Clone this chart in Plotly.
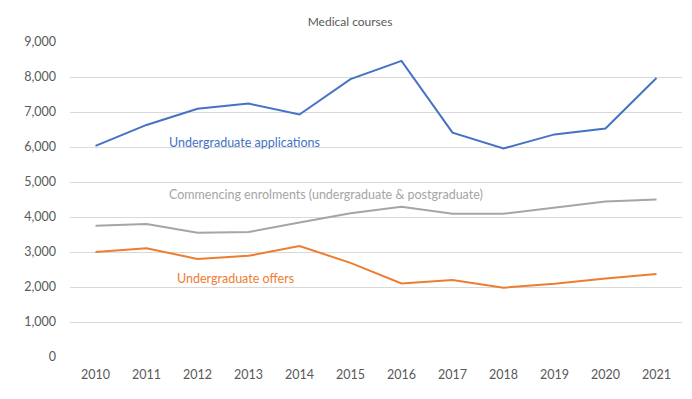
import plotly.graph_objects as go

years = ["2010", "2011", "2012", "2013", "2014", "2015", "2016", "2017", "2018", "2019", "2020", "2021"]
applications = [6030, 6630, 7090, 7240, 6930, 7940, 8460, 6410, 5960, 6360, 6530, 7970]
enrolments = [3750, 3800, 3550, 3570, 3840, 4110, 4290, 4090, 4090, 4260, 4440, 4500]
offers = [3000, 3110, 2800, 2890, 3170, 2690, 2100, 2200, 1980, 2090, 2240, 2370]
yticks = [0, 1000, 2000, 3000, 4000, 5000, 6000, 7000, 8000, 9000]

c_app = "#4472C4"
c_enr = "#A5A5A5"
c_off = "#ED7D31"
font = "Lato, 'Open Sans', sans-serif"

fig = go.Figure()
fig.add_trace(go.Scatter(x=years, y=enrolments, mode="lines", line=dict(color=c_enr, width=2), name="Commencing enrolments"))
fig.add_trace(go.Scatter(x=years, y=offers, mode="lines", line=dict(color=c_off, width=2), name="Undergraduate offers"))
fig.add_trace(go.Scatter(x=years, y=applications, mode="lines", line=dict(color=c_app, width=2), name="Undergraduate applications"))

fig.update_layout(
    width=684, height=391,
    margin=dict(l=62, r=10, t=34, b=42),
    paper_bgcolor="white", plot_bgcolor="white",
    showlegend=False,
    font=dict(family=font, size=12, color="#595959"),
    title=dict(text="Medical courses", x=0.5, xanchor="center", y=1 - 14 / 391, yanchor="middle",
               font=dict(size=12, color="#595959", family=font)),
    xaxis=dict(type="category", range=[-0.5, 11.5], showgrid=False, showline=False, zeroline=False,
               ticks="", ticklabelstandoff=8, tickfont=dict(size=12.5, color="#595959")),
    yaxis=dict(range=[0, 9000], tickvals=yticks, tickformat=",", showgrid=True, gridcolor="#D9D9D9",
               gridwidth=1, zeroline=False, showline=False, ticks="", ticklabelstandoff=13,
               tickfont=dict(size=12.5, color="#595959")),
    annotations=[
        dict(x=1.41, y=6143, xref="x", yref="y", text="Undergraduate applications", showarrow=False,
             xanchor="left", yanchor="middle", font=dict(color=c_app, size=12.5, family=font)),
        dict(x=1.41, y=4630, xref="x", yref="y", text="Commencing enrolments (undergraduate &amp; postgraduate)",
             showarrow=False, xanchor="left", yanchor="middle", font=dict(color=c_enr, size=12.5, family=font)),
        dict(x=1.55, y=2230, xref="x", yref="y", text="Undergraduate offers", showarrow=False,
             xanchor="left", yanchor="middle", font=dict(color=c_off, size=12.5, family=font)),
    ],
)

fig.write_html("out.html")
